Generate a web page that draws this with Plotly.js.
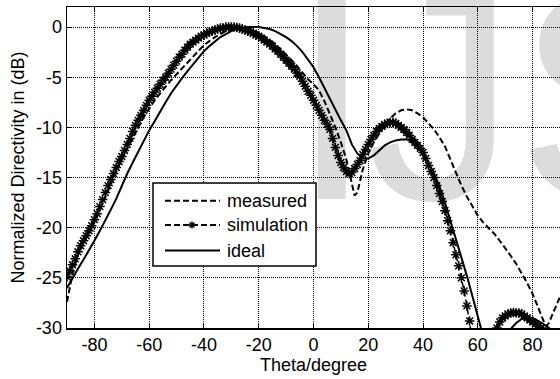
<!DOCTYPE html>
<html>
<head>
<meta charset="utf-8">
<script src="https://cdn.plot.ly/plotly-3.0.1.min.js"></script>
<style>
  html, body { margin: 0; padding: 0; background: #fff; overflow: hidden; }
  #wrap { position: relative; width: 560px; height: 379px; }
  #mark { position: absolute; left: 0; top: 0; }
  #chart { position: absolute; left: 0; top: 0; width: 560px; height: 379px; }
</style>
</head>
<body>
<div id="wrap">
  <svg id="mark" width="560" height="379">
    <text y="199" font-family="Liberation Sans, Arial, sans-serif" font-size="300" fill="#dcdcdc"><tspan x="290">I</tspan><tspan x="366">J</tspan><tspan x="516">S</tspan></text>
  </svg>
  <div id="chart"></div>
</div>
<script>
// Radiation pattern: normalized directivity (dB) versus theta (degrees)

const simTheta = [
  -90,-89,-88,-87,-86,-85,-84,-83,-82,-81,
  -80,-79,-78,-77,-76,-75,-74,-73,-72,-71,
  -70,-69,-68,-67,-66,-65,-64,-63,-62,-61,
  -60,-59,-58,-57,-56,-55,-54,-53,-52,-51,
  -50,-49,-48,-47,-46,-45,-44,-43,-42,-41,
  -40,-39,-38,-37,-36,-35,-34,-33,-32,-31,
  -30,-29,-28,-27,-26,-25,-24,-23,-22,-21,
  -20,-19,-18,-17,-16,-15,-14,-13,-12,-11,
  -10,-9,-8,-7,-6,-5,-4,-3,-2,-1,
  0,1,2,3,4,5,6,7,8,9,
  10,11,12,13,14,15,16,17,18,19,
  20,21,22,23,24,25,26,27,28,29,
  30,31,32,33,34,35,36,37,38,39,
  40,41,42,43,44,45,46,47,48,49,
  50,51,52,53,54,55,56,57,58,59,
  62,
  65,66,67,68,69,70,71,72,73,74,
  75,76,77,78,79,80,81,82,83,84,85
];
const simDb = [
  -24.9,-24.3,-23.7,-23.1,-22.4,-21.8,-21.3,-20.8,-20.3,-19.8,
  -19.2,-18.6,-17.9,-17.2,-16.5,-15.8,-15.2,-14.6,-14.0,-13.4,
  -12.9,-12.3,-11.7,-11.1,-10.4,-9.8,-9.3,-8.8,-8.3,-7.8,
  -7.3,-6.9,-6.5,-6.1,-5.7,-5.3,-5.0,-4.6,-4.2,-3.8,
  -3.4,-3.0,-2.7,-2.3,-2.0,-1.7,-1.5,-1.3,-1.1,-0.9,
  -0.8,-0.6,-0.5,-0.4,-0.3,-0.2,-0.1,-0.1,0,0,
  0,0,-0.05,-0.1,-0.2,-0.3,-0.4,-0.5,-0.6,-0.8,
  -0.9,-1.1,-1.3,-1.5,-1.7,-1.9,-2.2,-2.4,-2.7,-3.0,
  -3.3,-3.6,-3.9,-4.2,-4.6,-4.9,-5.4,-5.9,-6.4,-6.8,
  -7.3,-7.8,-8.3,-8.8,-9.3,-9.7,-10.2,-11.1,-12.0,-12.8,
  -13.5,-14.0,-14.4,-14.6,-14.5,-14.1,-13.7,-13.3,-12.7,-12.2,
  -11.7,-11.2,-10.8,-10.4,-10.1,-9.9,-9.7,-9.6,-9.5,-9.5,
  -9.6,-9.8,-10.0,-10.2,-10.5,-10.8,-11.2,-11.5,-11.8,-12.1,
  -12.5,-13.1,-13.8,-14.4,-15.0,-15.8,-16.6,-17.4,-18.3,-19.3,
  -20.3,-21.5,-22.7,-23.8,-25.0,-26.3,-27.8,-29.3,-31.0,-33.0,
  null,
  -33.5,-31.2,-30.0,-29.4,-29.0,-28.8,-28.6,-28.5,-28.45,-28.5,
  -28.5,-28.6,-28.8,-29.0,-29.2,-29.4,-29.6,-29.8,-30.0,-30.3,-31.0
];

const measTheta = [
  -90,-89,-88,
  -86,-84,-82,-80,-78,-76,-74,-72,-70,-68,-66,-64,-62,-60,-58,-56,-54,-52,
  -50,-48,-46,-44,-42,-40,-38,-36,-34,-32,-30,-28,-26,-24,-22,-20,-18,-16,
  -14,-12,-10,-8,-6,-4,-2,
  0,2,4,6,8,10,12,
  13,14,15,16,17,18,
  20,22,24,26,28,30,32,34,36,38,40,42,44,46,48,50,52,54,56,58,60,62,64,66,
  68,70,72,74,76,78,80,82,84,
  85,86,87,88,89,90
];
const measDb = [
  -27.4,-25.8,-24.6,
  -22.7,-21.4,-20.4,-19.4,-18.2,-16.9,-15.6,-14.4,-13.2,-12.1,-11.0,-10.0,-9.0,-8.1,-7.3,-6.6,-5.9,-5.3,
  -4.7,-4.1,-3.5,-2.9,-2.3,-1.8,-1.4,-1.0,-0.7,-0.4,-0.2,-0.05,0,-0.1,-0.3,-0.6,-0.9,-1.3,
  -1.7,-2.2,-2.7,-3.3,-3.9,-4.6,-5.2,
  -5.7,-6.3,-7.4,-8.7,-10.0,-11.5,-13.2,
  -14.4,-15.7,-16.8,-16.5,-15.3,-14.2,
  -12.6,-11.5,-10.6,-9.7,-9.1,-8.6,-8.3,-8.2,-8.3,-8.6,-9.0,-9.6,-10.2,-11.0,-11.9,-13.2,-14.6,-15.8,-16.9,-17.9,-18.8,-19.5,-20.0,-20.6,
  -21.3,-22.0,-22.8,-23.6,-24.5,-25.5,-26.6,-28.0,-29.3,
  -29.8,-29.5,-28.8,-28.1,-27.5,-26.9
];

const idealTheta = [
  -90,-88,-86,-84,-82,-80,-78,-76,-74,-72,-70,-68,-66,-64,-62,-60,-58,-56,-54,-52,
  -50,-48,-46,-44,-42,-40,-38,-36,-34,-32,-30,-28,-26,-24,-22,-20,-18,-16,-14,-12,
  -10,-8,-6,-4,-2,
  0,2,4,6,8,10,12,14,16,18,20,22,24,26,28,30,32,34,36,38,
  40,42,44,46,48,50,52,54,56,58,60,
  61,62,64,
  67,
  70,72,74,76,78,80,82,84,86,88,90
];
const idealDb = [
  -26.0,-25.0,-24.1,-23.2,-22.3,-21.3,-20.3,-19.3,-18.2,-17.1,-15.8,-14.6,-13.5,-12.4,-11.3,-10.3,-9.4,-8.4,-7.5,-6.6,
  -5.8,-5.1,-4.4,-3.7,-3.0,-2.4,-1.9,-1.4,-1.0,-0.7,-0.4,-0.2,-0.1,0,0,0,-0.1,-0.2,-0.4,-0.7,
  -1.0,-1.4,-1.9,-2.5,-3.2,
  -4.0,-5.0,-6.1,-7.2,-8.3,-9.3,-10.3,-11.7,-12.6,-13.1,-13.1,-12.8,-12.3,-11.8,-11.5,-11.3,-11.2,-11.2,-11.4,-11.9,
  -12.6,-13.5,-14.6,-15.9,-17.5,-19.3,-21.1,-23.0,-24.8,-26.8,-28.8,
  -29.8,-30.9,-33.5,
  null,
  -33.0,-30.1,-29.5,-29.1,-29.0,-29.0,-29.3,-29.6,-30.0,-30.7,-31.8
];

const xTickVals = [-80, -60, -40, -20, 0, 20, 40, 60, 80];
const xTickText = ['-80', '-60', '-40', '-20', '0', '20', '40', '60', '80'];
const yTickVals = [0, -5, -10, -15, -20, -25, -30];
const yTickText = ['0', '-5', '-10', '-15', '-20', '-25', '-30'];

const seriesNames = ['measured', 'simulation', 'ideal'];

// ---- plot geometry (pixels) ----
const W = 560, H = 379;
const M = { l: 67, r: 0, t: 7, b: 51 };
const plotW = W - M.l - M.r, plotH = H - M.t - M.b;
const px2x = p => (p - M.l) / plotW;
const px2y = p => (H - M.b - p) / plotH;

const FONT = 'Liberation Sans, Arial, Helvetica, sans-serif';
const DASH = '6px,3px';

const traces = [
  {
    x: measTheta, y: measDb, name: seriesNames[0], type: 'scatter', mode: 'lines',
    line: { color: '#000', width: 2, dash: DASH }, showlegend: false
  },
  {
    x: simTheta, y: simDb, name: seriesNames[1], type: 'scatter', mode: 'lines+markers',
    connectgaps: false,
    line: { color: '#000', width: 1.5, dash: DASH },
    marker: { symbol: 'asterisk-open', size: 8, color: '#000', line: { color: '#000', width: 1.5 } },
    showlegend: false
  },
  {
    x: idealTheta, y: idealDb, name: seriesNames[2], type: 'scatter', mode: 'lines',
    connectgaps: false,
    line: { color: '#000', width: 2 }, showlegend: false
  }
];

// ---- hand-built legend box ----
const legBox = { x0: 153, x1: 316, y0: 183, y1: 266 };
const legRowsPx = [200.7, 225, 250.5];
const legLineX = [165, 220];
const legTextX = 225;
const legMarkX = 192;

const shapes = [
  {
    type: 'rect', xref: 'paper', yref: 'paper', layer: 'above',
    x0: px2x(legBox.x0), x1: px2x(legBox.x1), y0: px2y(legBox.y1), y1: px2y(legBox.y0),
    line: { color: '#000', width: 1.5 }, fillcolor: '#fff'
  }
];
const annotations = [];
seriesNames.forEach((name, i) => {
  const yy = px2y(legRowsPx[i]);
  shapes.push({
    type: 'line', xref: 'paper', yref: 'paper', layer: 'above',
    x0: px2x(legLineX[0]), x1: px2x(legLineX[1]), y0: yy, y1: yy,
    line: { color: '#000', width: 2, dash: i < 2 ? DASH : 'solid' }
  });
  annotations.push({
    xref: 'paper', yref: 'paper', x: px2x(legTextX), y: yy,
    xanchor: 'left', yanchor: 'middle', showarrow: false, text: name,
    font: { family: FONT, size: 18, color: '#000' }
  });
});
// asterisk marker on the simulation sample line
shapes.push({
  type: 'path', xref: 'paper', yref: 'paper', layer: 'above',
  xsizemode: 'pixel', ysizemode: 'pixel',
  xanchor: px2x(legMarkX), yanchor: px2y(legRowsPx[1]),
  path: 'M-3.5,0L3.5,0M0,-3.5L0,3.5M-2.5,-2.5L2.5,2.5M-2.5,2.5L2.5,-2.5',
  line: { color: '#000', width: 1.4 }
});

const axisCommon = {
  showline: true, linecolor: '#000', linewidth: 1.5,
  ticks: 'inside', ticklen: 5, tickwidth: 1, tickcolor: '#000',
  showgrid: true, gridcolor: '#000', gridwidth: 1, griddash: '1px,1px',
  zeroline: false,
  tickfont: { family: FONT, size: 18, color: '#000' }
};

const layout = {
  width: W, height: H,
  margin: M,
  paper_bgcolor: 'rgba(0,0,0,0)',
  plot_bgcolor: 'rgba(0,0,0,0)',
  font: { family: FONT, size: 18, color: '#000' },
  showlegend: false,
  xaxis: Object.assign({}, axisCommon, {
    range: [-90, 90], mirror: 'ticks',
    tickmode: 'array', tickvals: xTickVals, ticktext: xTickText,
    title: { text: 'Theta/degree', font: { family: FONT, size: 18, color: '#000' }, standoff: 4 }
  }),
  yaxis: Object.assign({}, axisCommon, {
    range: [-30, 2], mirror: false,
    tickmode: 'array', tickvals: yTickVals, ticktext: yTickText,
    title: { text: 'Normalized Directivity in (dB)', font: { family: FONT, size: 18, color: '#000' }, standoff: 6 }
  }),
  shapes: shapes,
  annotations: annotations
};

Plotly.newPlot('chart', traces, layout, { staticPlot: true, displayModeBar: false });
</script>
</body>
</html>
